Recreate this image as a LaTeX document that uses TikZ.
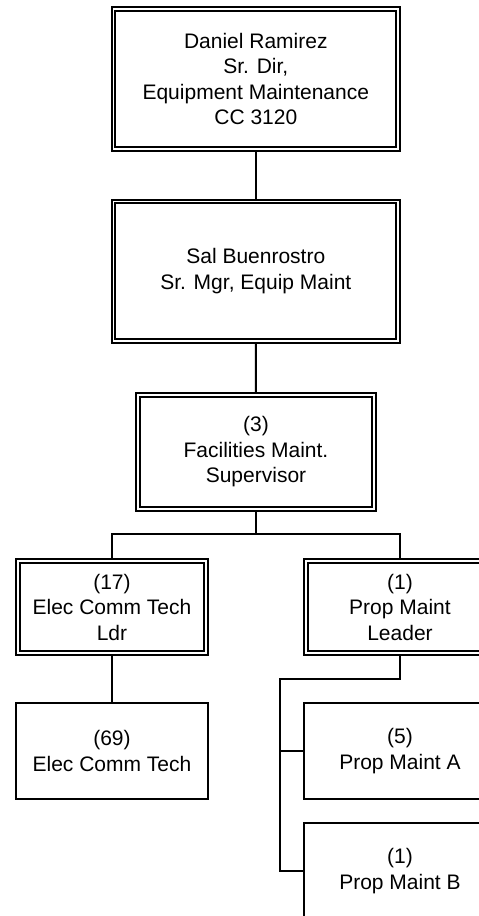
\documentclass[tikz,border=0pt]{standalone}
\usepackage{fontspec}
\setmainfont{Liberation Sans}
\usetikzlibrary{backgrounds}
\tikzset{
  orgtext/.style={align=center, font=\fontsize{21}{25.5}\selectfont, text=black, inner sep=0pt, outer sep=0pt},
  dbox/.style={orgtext, draw, line width=2pt, double, double distance=1.6pt},
  sbox/.style={orgtext, draw, line width=2pt},
  link/.style={draw, line width=2pt}
}
\begin{document}
\begin{tikzpicture}[x=1pt,y=-1pt]
\clip (0,0) rectangle (479,916);
\node[dbox, minimum width=284.4pt, minimum height=140pt] (dir) at (255.8,78.8)
  {Daniel Ramirez\\Sr. Dir,\\Equipment Maintenance\\CC 3120};
\node[dbox, minimum width=284.4pt, minimum height=139.7pt] (mgr) at (255.8,271.2)
  {Sal Buenrostro\\Sr. Mgr, Equip Maint};
\node[dbox, minimum width=235.5pt, minimum height=113.7pt] (sup) at (256,451.9)
  {(3)\\Facilities Maint.\\Supervisor};
\node[dbox, minimum width=188.4pt, minimum height=91.6pt] (ldr) at (112,607)
  {(17)\\Elec Comm Tech\\Ldr};
\node[dbox, minimum width=188.4pt, minimum height=91.6pt] (pml) at (400,607)
  {(1)\\Prop Maint\\Leader};
\node[sbox, minimum width=192pt, minimum height=96pt] (ect) at (112,751)
  {(69)\\Elec Comm Tech};
\node[sbox, minimum width=192pt, minimum height=96pt] (pma) at (400,751)
  {(5)\\Prop Maint A};
\node[sbox, minimum width=192pt, minimum height=96pt] (pmb) at (400,871)
  {(1)\\Prop Maint B};
\coordinate (j1) at (256,534.3);
\coordinate (t1) at (280,679);
\begin{scope}[on background layer]
\fill[white] (0,0) rectangle (479,916);
\draw[link] (dir.south) -- (mgr.north);
\draw[link] (mgr.south) -- (sup.north);
\draw[link] (sup.south) -- (j1);
\draw[link] (ldr.north) |- (j1) -| (pml.north);
\draw[link] (ldr.south) -- (ect.north);
\draw[link] (pml.south) |- (t1) |- (pma.west);
\draw[link] (t1) |- (pmb.west);
\end{scope}
\end{tikzpicture}
\end{document}
